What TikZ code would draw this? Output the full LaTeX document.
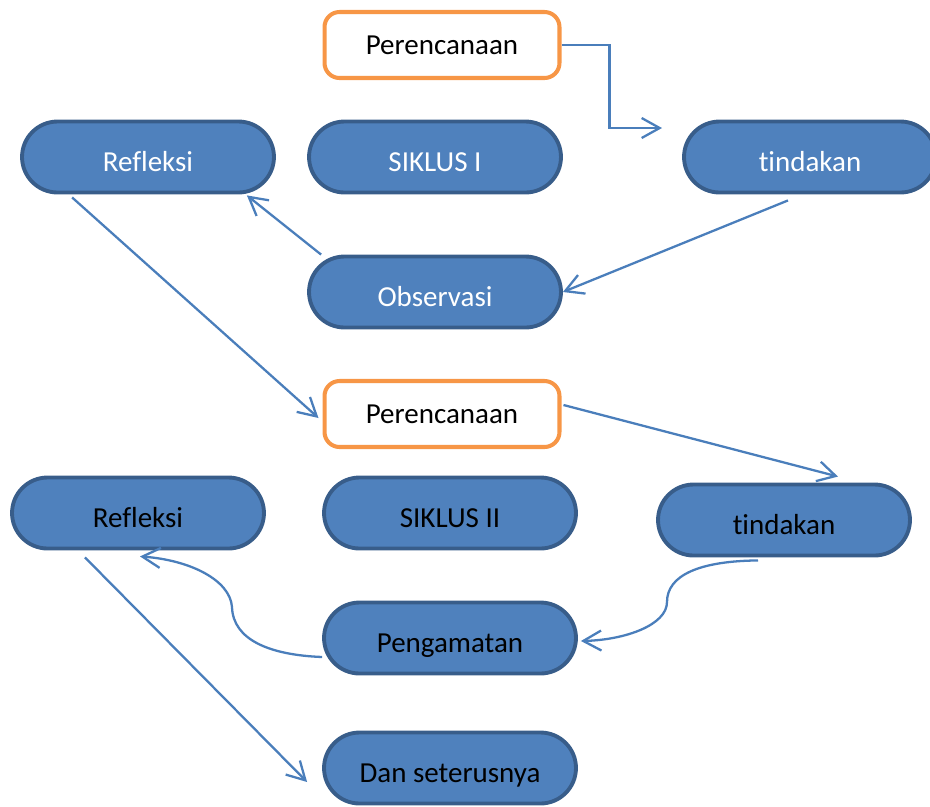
\documentclass[tikz,border=0pt]{standalone}
\usepackage{fontspec}
\setmainfont{Carlito}[Ligatures=NoCommon]
\usetikzlibrary{arrows.meta}
\definecolor{boxblue}{HTML}{4F81BD}
\definecolor{boxedge}{HTML}{385D8A}
\definecolor{planorange}{HTML}{F79646}
\definecolor{linkblue}{HTML}{4A7EBB}

\begin{document}
\begin{tikzpicture}[x=0.02cm, y=-0.02cm,
    font=\fontsize{16.5}{20}\selectfont,
    pill/.style={draw=boxedge, fill=boxblue, line width=2.2pt, rounded corners=0.71cm,
        minimum width=5.04cm, minimum height=1.42cm, text height=16pt, text depth=0pt},
    plan/.style={draw=planorange, fill=white, line width=2.3pt, rounded corners=0.3cm,
        minimum width=4.7cm, minimum height=1.32cm, text height=12pt, text depth=1.4pt},
    link/.style={draw=linkblue, line width=1.3pt, -{Straight Barb[length=3.6mm, width=4mm]}}]
            \useasboundingbox (0,0) rectangle (930,806);

            % siklus I
            \node[plan] (plan1) at (442,45) {Perencanaan};
            \node[pill, text=white] (refl1) at (148,157) {Refleksi};
            \node[pill, text=white] (cyc1) at (435,157) {SIKLUS I};
            \node[pill, text=white] (act1) at (810,157) {tindakan};
            \node[pill, text=white] (obs1) at (435,292) {Observasi};

            % siklus II
            \node[plan] (plan2) at (442,414) {Perencanaan};
            \node[pill] (refl2) at (138,513) {Refleksi};
            \node[pill] (cyc2) at (450,513) {SIKLUS II};
            \node[pill] (act2) at (784,520) {tindakan};
            \node[pill] (obs2) at (450,638) {Pengamatan};
            \node[pill] (next) at (450,768) {Dan seterusnya};

            \coordinate (tip1) at (662,128);

            \draw[link] (plan1.east) -- ++(48,0) |- (tip1);
            \draw[link] ([shift={(-22,6)}]act1.south) -- (obs1.east);
            \draw[link] ([shift={(14,0)}]obs1.north west) -- ([shift={(-29,1)}]refl1.south east);
            \draw[link] ([shift={(52,3)}]refl1.south west) -- ([shift={(-4,4)}]plan2.west);

            \draw[link] ([shift={(2,-9)}]plan2.east) -- ([shift={(54,-6)}]act2.north);
            \draw[link] ([shift={(-26,3)}]act2.south)
                .. controls (700,561) and (667,575) .. (667,602)
                .. controls (667,625) and (625,640) .. ([shift={(3,3)}]obs2.east);
            \draw[link] ([shift={(0,19)}]obs2.west)
                .. controls (270,655) and (233,640) .. (232,607)
                .. controls (230,580) and (190,560) .. ([shift={(2,6)}]refl2.south);
            \draw[link] ([shift={(-53,7)}]refl2.south) -- ([shift={(-15,14)}]next.west);
        \end{tikzpicture}
\end{document}
